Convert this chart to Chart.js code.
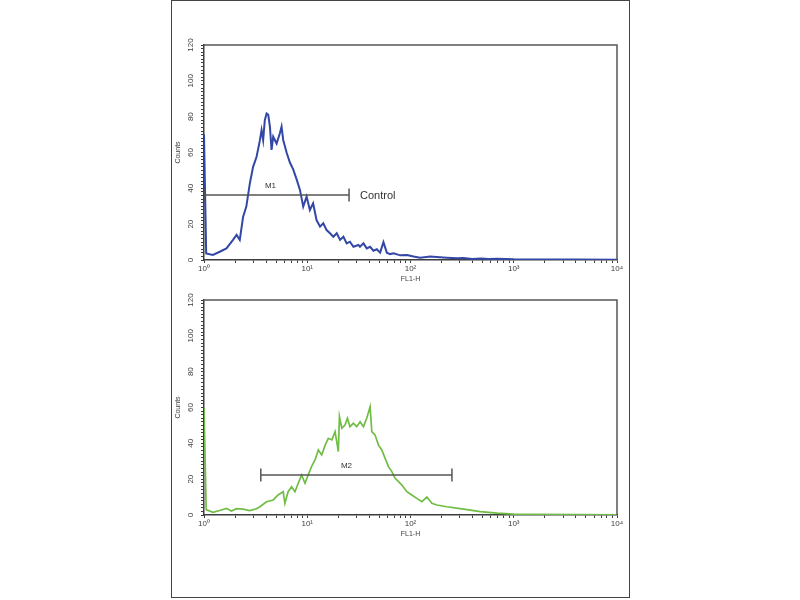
<!DOCTYPE html>
<html lang="en">
<head>
  <meta charset="UTF-8" />
  <title>FL1-H histograms</title>
  <script src="https://cdn.jsdelivr.net/npm/chart.js@4.4.1/dist/chart.umd.min.js"></script>
  <style>
    body {
      margin: 0;
      background: #fff;
      width: 800px;
      height: 600px;
      position: relative;
      overflow: hidden;
      font-family: 'Liberation Sans', Arial, sans-serif;
    }
    .frame {
      position: absolute;
      left: 171px;
      top: 0;
      width: 457px;
      height: 596px;
      border: 1px solid #444;
    }
    canvas { position: absolute; left: 170px; }
    #controlChart { top: 0; }
    #sampleChart { top: 255px; }
  </style>
</head>
<body>
  <div class="frame"></div>
  <canvas id="controlChart" width="460" height="290"></canvas>
  <canvas id="sampleChart" width="460" height="290"></canvas>

  <script>
    // axis ticks
    const decadeValues = [1, 10, 100, 1000, 10000];
    const decadeLabels = ['10⁰', '10¹', '10²', '10³', '10⁴'];
    const countLabels = [0, 20, 40, 60, 80, 100, 120];

    // control histogram (blue), FL1-H vs counts
    const controlX = [1, 1.05, 1.22, 1.42, 1.65, 1.91, 2.07, 2.22, 2.39, 2.57, 2.78, 2.99, 3.23, 3.48, 3.61,
      3.74, 3.88, 4.04, 4.19, 4.35, 4.51, 4.68, 5.05, 5.43, 5.64, 5.85, 6.31, 6.79, 7.31, 7.89, 8.51, 9.14,
      9.86, 10.6, 11.4, 12.3, 13.3, 14.3, 15.4, 16.6, 17.9, 19.3, 20.8, 22.4, 24.1, 25.9, 28.0, 31.3, 32.4,
      35.0, 37.7, 40.6, 43.8, 47.2, 50.8, 54.7, 59.0, 63.5, 68.6, 79.4, 92.3, 107, 124, 155, 224, 282, 324,
      398, 479, 575, 692, 1000, 2000, 3980, 10000];
    const controlY = [70, 3.7, 2.8, 4.6, 6.5, 11.2, 14, 11.2, 24, 29.8, 42.8, 52, 57.6, 66.9, 72.5,
      66.9, 78, 81.8, 81, 74.4, 61.4, 68.8, 65, 70.7, 74.4, 67, 60, 54.4, 50.6, 45, 39, 29.8,
      35.4, 27.9, 31.6, 22.3, 18.6, 20.5, 16.7, 14.9, 13, 14.9, 11.2, 13, 9.3, 10.2, 7.4, 8.4, 7.4,
      9.3, 6.5, 7.4, 5.2, 6, 4.1, 10, 4.1, 3.3, 3.7, 2.6, 2.8, 1.9, 1.3, 1.9, 1.3, 1.0, 1.1,
      0.6, 0.9, 0.6, 0.7, 0.4, 0.3, 0.3, 0.2];

    // stained sample histogram (green)
    const sampleX = [1, 1.05, 1.22, 1.42, 1.65, 1.84, 2.06, 2.39, 2.77, 3.22, 3.48, 4.03, 4.68, 5.22, 5.85,
      6.07, 6.53, 7.05, 7.60, 8.18, 8.81, 9.51, 10.2, 11.0, 11.9, 12.8, 13.8, 14.9, 16.0, 17.3, 18.6, 20.0,
      20.5, 21.6, 23.2, 24.5, 25.9, 28.0, 30.1, 32.5, 35.0, 37.7, 40.6, 42.2, 45.4, 49.0, 52.7, 56.8, 61.2,
      65.9, 71.0, 76.6, 82.4, 92.3, 103, 115, 129, 144, 161, 180, 225, 327, 474, 689, 1000, 1450, 4470, 10000];
    const sampleY = [60, 3, 1.5, 2.5, 3.7, 2.2, 3.5, 3.3, 2.5, 3.5, 4.6, 7.4, 8.4, 11.2, 13,
      6.5, 13, 15.8, 13, 17.7, 22.3, 17.7, 22.3, 27, 30.7, 36.3, 33.5, 39, 42.8, 41.9, 46.5, 35.4,
      54.9, 48.4, 50.2, 54, 49.3, 51.2, 49.3, 52, 49.3, 54, 60.4, 46.5, 44.6, 39, 36.3, 31.6, 27,
      24.2, 20.5, 18.6, 16.7, 13, 11.2, 9.3, 7.4, 10, 6.5, 5.6, 4.6, 3.3, 1.9, 1.0, 0.5, 0.3, 0.2, 0.1];

    // marker gates: [start, end] on FL1-H, level in counts
    const gateM1 = { name: 'M1', start: 1, end: 25.4, level: 36.3, labelAt: 4.4 };
    const gateM2 = { name: 'M2', start: 3.55, end: 252, level: 22.3, labelAt: 24 };

    const xTickValues = [];
    for (let d = 0; d < 4; d++) {
      for (let s = 1; s < 10; s++) xTickValues.push(s * decadeValues[d]);
    }
    xTickValues.push(decadeValues[4]);

    const FONT = "'Liberation Sans', Arial, sans-serif";
    const AXIS = '#3d3d3d';

    // top/right edges of the plot box, gate name, side note
    const plotExtras = {
      id: 'plotExtras',
      afterDatasetsDraw(chart, args, opts) {
        const { ctx, chartArea: a, scales } = chart;
        ctx.save();
        ctx.strokeStyle = '#555';
        ctx.lineWidth = 1.5;
        ctx.beginPath();
        ctx.moveTo(a.left, a.top);
        ctx.lineTo(a.right, a.top);
        ctx.lineTo(a.right, a.bottom);
        ctx.stroke();

        const gy = scales.y.getPixelForValue(opts.gate.level);
        ctx.fillStyle = '#333';
        ctx.font = '8px ' + FONT;
        ctx.textAlign = 'center';
        ctx.textBaseline = 'bottom';
        ctx.fillText(opts.gate.name, scales.x.getPixelForValue(opts.gate.labelAt), gy - 5);

        if (opts.note) {
          ctx.font = '11px ' + FONT;
          ctx.textAlign = 'left';
          ctx.textBaseline = 'middle';
          ctx.fillText(opts.note, scales.x.getPixelForValue(opts.gate.end) + 11, gy + 1);
        }
        ctx.restore();
      }
    };

    const makeHistogram = (id, xs, ys, color, width, gate, note) => {
      new Chart(document.getElementById(id), {
        type: 'line',
        data: {
          datasets: [{
            // gate bar with end caps
            data: [{ x: gate.start, y: gate.level }, { x: gate.end, y: gate.level }],
            borderColor: '#555',
            borderWidth: 1.5,
            pointStyle: 'line',
            pointRotation: 90,
            pointRadius: 6.5,
            pointBorderColor: '#555',
            pointBorderWidth: 1.5
          }, {
            data: xs.map((x, i) => ({ x, y: ys[i] })),
            borderColor: color,
            borderWidth: width,
            pointRadius: 0,
            tension: 0,
            fill: false
          }]
        },
        options: {
          responsive: false,
          animation: false,
          events: [],
          layout: { padding: { top: 45, right: 13, left: 0, bottom: 0 } },
          plugins: {
            legend: { display: false },
            tooltip: { enabled: false },
            plotExtras: { gate, note }
          },
          scales: {
            x: {
              type: 'logarithmic',
              min: 1,
              max: 10000,
              afterBuildTicks: s => { s.ticks = xTickValues.map(v => ({ value: v })); },
              afterFit: s => { s.height = 30; },
              ticks: {
                autoSkip: false,
                maxRotation: 0,
                padding: 1,
                color: AXIS,
                font: { size: 8, family: FONT },
                callback: v => {
                  const i = decadeValues.indexOf(v);
                  return i >= 0 ? decadeLabels[i] : '';
                }
              },
              grid: { drawOnChartArea: false, tickLength: 3, tickColor: AXIS },
              border: { color: AXIS, width: 1.5 },
              title: { display: true, text: 'FL1-H', color: AXIS, font: { size: 7, family: FONT }, padding: { top: 0, bottom: 7 } }
            },
            y: {
              min: 0,
              max: 120,
              afterFit: s => { s.width = 34; },
              ticks: {
                stepSize: 2,
                autoSkip: false,
                minRotation: 90,
                maxRotation: 90,
                crossAlign: 'center',
                padding: 4,
                color: AXIS,
                font: { size: 8, family: FONT },
                callback: v => countLabels.includes(v) ? String(v) : ''
              },
              grid: { drawOnChartArea: false, tickLength: 3, tickColor: AXIS },
              border: { color: AXIS, width: 1.5 },
              title: { display: true, text: 'Counts', color: AXIS, font: { size: 7, family: FONT }, padding: { top: 4, bottom: 0 } }
            }
          }
        },
        plugins: [plotExtras]
      });
    };

    makeHistogram('controlChart', controlX, controlY, '#3347a6', 2, gateM1, 'Control');
    makeHistogram('sampleChart', sampleX, sampleY, '#70bd45', 1.7, gateM2, null);
  </script>
</body>
</html>
